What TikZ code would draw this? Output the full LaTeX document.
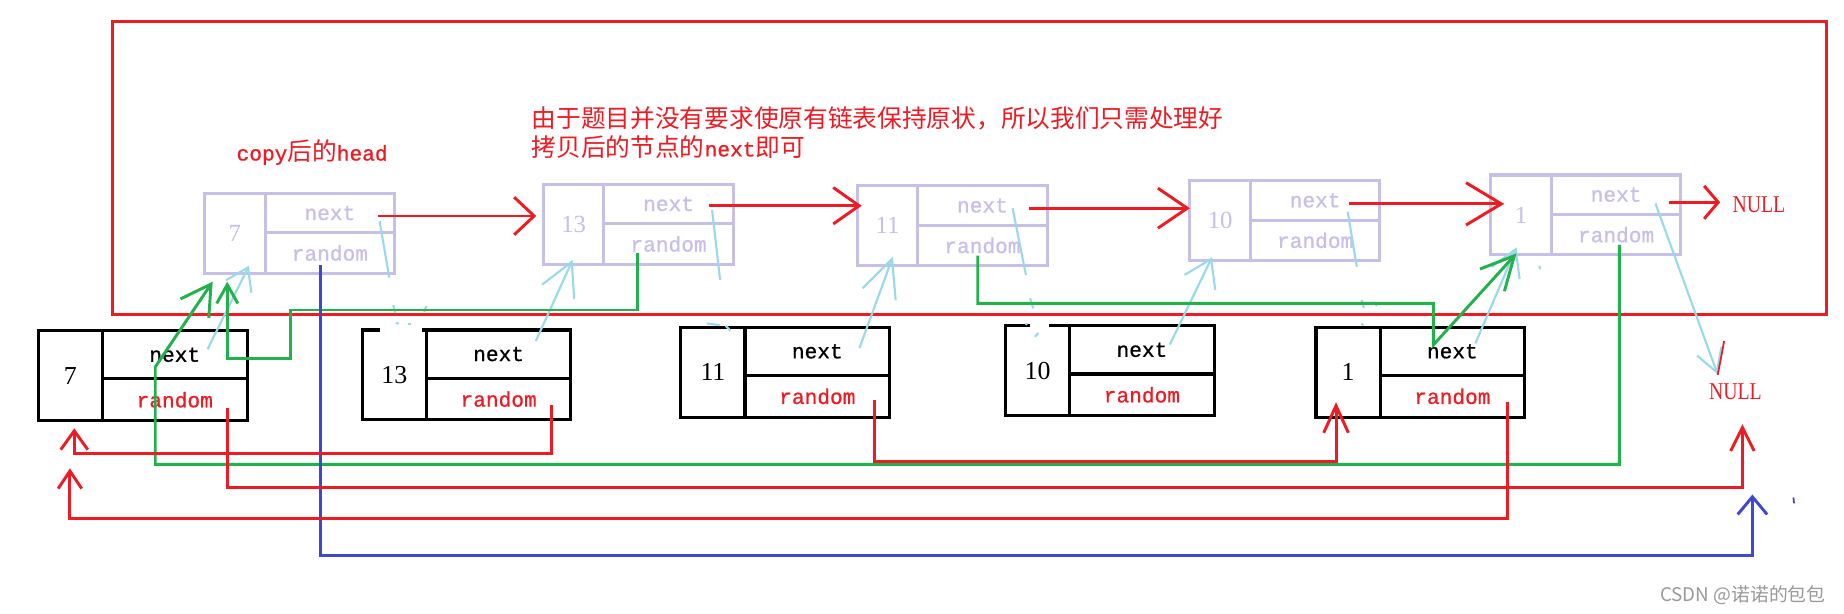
\documentclass[tikz,border=0pt]{standalone}
\usepackage{fontspec}
\setmainfont{Liberation Serif}
\newfontfamily\cjkfont{Noto Sans CJK SC}
\newfontfamily\codefont[FakeBold=0.8]{Liberation Mono}
\newfontfamily\narrowserif[FakeStretch=0.82]{Liberation Serif}
\usetikzlibrary{arrows.meta,calc,positioning}

\definecolor{pred}{RGB}{237,28,36}
\definecolor{pgreen}{RGB}{34,177,76}
\definecolor{pblue}{RGB}{63,72,204}
\definecolor{pcyan}{RGB}{153,217,234}
\definecolor{plav}{RGB}{200,191,231}

\newcommand{\zhtxt}[1]{{\cjkfont\fontsize{21}{25}\selectfont #1}}
\newcommand{\entxt}[1]{{\codefont\fontsize{18}{25}\selectfont #1}}

\tikzset{
  cell/.style={draw, line width=2.6pt, outer sep=0pt, inner sep=0pt, anchor=north west},
  origval/.style={cell, minimum width=54.5pt, minimum height=76.5pt, font=\fontsize{22}{22}\selectfont},
  orignext/.style={cell, minimum width=123pt, minimum height=41pt, font=\codefont\fontsize{18}{18}\selectfont},
  origrand/.style={orignext, minimum height=35.5pt, text=pred},
  copyval/.style={cell, draw=plav, text=plav, minimum width=51.5pt, minimum height=68pt, font=\fontsize{21}{21}\selectfont},
  copynext/.style={cell, draw=plav, text=plav, minimum width=110pt, minimum height=33.5pt, font=\codefont\fontsize{18}{18}\selectfont},
  copyrand/.style={copynext, minimum height=34.5pt},
  redtext/.style={text=pred, inner sep=0pt},
  nulltext/.style={text=pred, inner sep=0pt, font=\narrowserif\fontsize{20.5}{20.5}\selectfont},
  wmtext/.style={text=black!40, inner sep=0pt, font=\cjkfont\fontsize{16}{16}\selectfont},
  redline/.style={draw=pred, line width=2.5pt},
  greenline/.style={draw=pgreen, line width=2.5pt},
  blueline/.style={draw=pblue, line width=2.5pt},
  cyanline/.style={draw=pcyan, line width=1.8pt},
  wipe/.style={draw=white, line width=4pt},
  barb/.style 2 args={-{Straight Barb[length=#1pt,width=#2pt]}}
}

% one list node: value cell, next cell, random cell
\newcommand{\listnode}[4]{%
  \node[#4val] (#1v) at (#2) {#3};
  \node[#4next] (#1n) at (#1v.north east) {next};
  \node[#4rand] (#1r) at (#1n.south west) {random};
}

\begin{document}
\begin{tikzpicture}[x=1pt,y=-1pt]

\fill[white] (0,0) rectangle (1568,522);
\useasboundingbox (0,0) rectangle (1568,522);

\draw[redline] (95.8,18) rectangle (1552.7,267.3);

% copied list
\listnode{c7}{174,164.4}{7}{copy}
\listnode{c13}{462,156.7}{13}{copy}
\listnode{c11}{728.9,158}{11}{copy}
\listnode{c10}{1011.8,153.6}{10}{copy}
\listnode{c1}{1267.7,148.8}{1}{copy}

% original list
\listnode{o7}{32.6,281.2}{7}{orig}
\listnode{o13}{308,280.6}{13}{orig}
\listnode{o11}{579,278.3}{11}{orig}
\listnode{o10}{855,277}{10}{orig}
\listnode{o1}{1119,278.3}{1}{orig}

\draw[wipe] (323,280.6) -- (358.5,280.6);
\draw[wipe] (876,277) -- (892,277);

\node[nulltext, anchor=base west] (nulla) at (1473,180.8) {NULL};
\node[nulltext, anchor=base west] (nullb) at (1453,339.5) {NULL};

\node[redtext, anchor=base west] (headlbl) at (201,136.5) {\entxt{copy}\zhtxt{后的}\entxt{head}};
\node[redtext, anchor=base west] (note1) at (452,108) {\zhtxt{由于题目并没有要求使原有链表保持原状，所以我们只需处理好}};
\node[redtext, anchor=base west] (note2) at (452,133) {\zhtxt{拷贝后的节点的}\entxt{next}\zhtxt{即可}};

\node[wmtext] (wm) at (1482,506) {CSDN @诺诺的包包};

%% next of the copies
\foreach \a/\b/\dx/\dy/\ex/\hl/\hw in {c7/c13/41.2/2.5/-6/17/32, c13/c11/34.4/1.5/3.8/22/31,
    c11/c10/39.6/2.3/0/25/34, c10/c1/29/3/11.3/30/36}
  \draw[redline, barb={\hl}{\hw}] ($(\a n.center)+(\dx,\dy)$) coordinate (s)
    -- ($(s -| \b v.west)+(\ex,0)$);
\draw[redline, barb={12}{28}] ($(c1n.center)+(44.8,6.5)$) coordinate (s)
  -- ($(s -| nulla.west)+(-10.3,0)$);

%% original next -> copy
\foreach \a/\b/\dx/\dy/\ex/\ey/\hl/\hw in {o7/c7/27.9/-4.7/11.9/-6.4/18/24,
    o13/c13/31.6/-11.1/-0.8/-3.7/28/30, o11/c11/35.8/-2.8/4.6/-7.8/32/30,
    o10/c10/23.7/-4.5/-7/-2.8/22/29, o1/c1/19.5/-6.8/-3.9/-6.5/22/26}
  \draw[cyanline, barb={\hl}{\hw}] ($(\a n.center)+(\dx,\dy)$) -- ($(\b v.south)+(\ex,\ey)$);

%% copy next -> original (rubbed out)
\foreach \a/\dx/\dy/\ex/\ey in {c7/42.3/6.9/8.2/48, c13/37/5/6.8/59.5,
    c11/25.6/2.3/11.4/56.8, c10/27.7/9.7/7.7/46.7}
  \draw[cyanline] ($(\a n.center)+(\dx,\dy)$) -- ++(\ex,\ey);
\foreach \xa/\ya/\xb/\yb in {334.4/259.4/336/266, 362.7/260.2/360.5/265, 336.7/274.5/339/275.4,
    346.8/275.4/349.9/275.4, 601/275/612/276.5, 617/277/621/281, 875.9/253.7/878.7/262.2,
    872/275/873.6/276, 880/286.3/883/283, 1157.8/255/1159.7/262, 1168/257/1171/260,
    1158/275/1159/277, 1309/226/1309.5/229}
  \draw[cyanline] (\xa,\ya) -- (\xb,\yb);
\draw[cyanline, barb={19}{22}] ($(c1n.center)+(33.5,7.5)$) -- ($(nullb.center)+(-15.1,-14.7)$);
\draw[redline, line width=1.5pt] ($(nullb.center)+(-9.5,-43)$) -- ($(nullb.center)+(-15,-14)$);

%% random of the copies
\draw[greenline, barb={25}{29}] ($(c1r.center)+(2.7,8.7)$) |- (132,394.8) -- (132,312)
  -- ($(c7v.south)+(-18.9,7.1)$);
\draw[greenline, barb={16}{18}] ($(c13r.center)+(-26.4,7.4)$) |- (247,263.6) -- (247,304.7)
  -| ($(c7v.south)+(-6.5,7.1)$);
\draw[greenline, barb={28}{28}] ($(c11r.center)+(-4,8.7)$) |- ($(o1n.center)+(-16.2,-40.8)$)
  -- ($(o1n.center)+(-16.2,-5.5)$) -- ($(c1v.south)+(-3.9,-1.4)$);
\draw[blueline, barb={15}{25}] ($(c7r.center)+(-8.2,10.3)$) -- ++(0,246.5)
  -| ($(nullb.center)+(14.5,87.6)$);
\draw[blueline, line width=1.5pt] (1525,423) -- (1525.5,428);

%% random of the originals
\draw[redline, barb={20}{20}] ($(o7r.center)+(44.7,7)$) -- ++(0,67.4) -| ($(nullb.center)+(6,27.8)$);
\draw[redline, barb={16}{23}] ($(o13r.center)+(44.9,5.2)$) -- ++(0,41) -| ($(o7v.south)+(3.3,6.5)$);
\draw[redline, barb={23}{21}] ($(o11r.center)+(48.3,3)$) -- ++(0,52) -| ($(o1v.south)+(-10.2,-12.8)$);
\draw[redline, barb={15}{20}] ($(o1r.center)+(47,4.5)$) -- ++(0,99.2) -| ($(o7v.south)+(-0.4,40.5)$);

\end{tikzpicture}
\end{document}
